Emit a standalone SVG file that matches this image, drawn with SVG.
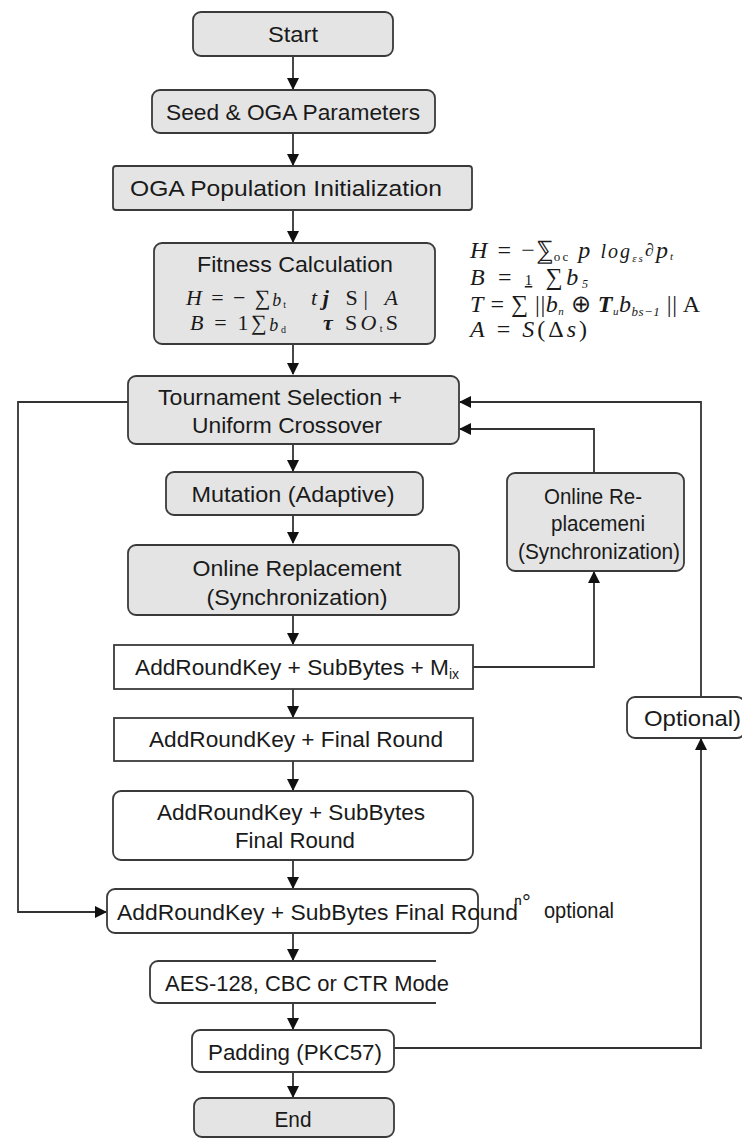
<svg xmlns="http://www.w3.org/2000/svg" width="742" height="1138" viewBox="0 0 742 1138">
<style>
.g{fill:#e4e4e4;stroke:#3a3a3a;stroke-width:1.8}
.w{fill:#ffffff;stroke:#3a3a3a;stroke-width:1.8}
.t{font-family:"Liberation Sans",Arial,sans-serif;font-size:22px;fill:#1a1a1a;text-anchor:middle}
.ts{font-family:"Liberation Sans",Arial,sans-serif;font-size:22px;fill:#1a1a1a}
.m{font-family:"Liberation Serif","Times New Roman",serif;font-size:24px;fill:#1a1a1a}
.mf{font-family:"Liberation Serif","Times New Roman",serif;font-size:22px;fill:#1a1a1a}
.i{font-style:italic}
.c{fill:none;stroke:#333;stroke-width:1.8}
</style>
<defs>
<marker id="ah" viewBox="0 0 12 12" refX="11" refY="6" markerWidth="12" markerHeight="12" markerUnits="userSpaceOnUse" orient="auto">
<path d="M0,0 L12,6 L0,12 Z" fill="#111"/>
</marker>
</defs>
<rect width="742" height="1138" fill="#ffffff"/>

<g id="connectors">
<path class="c" d="M293,56 V89" marker-end="url(#ah)"/>
<path class="c" d="M293,133 V165" marker-end="url(#ah)"/>
<path class="c" d="M293,210 V242" marker-end="url(#ah)"/>
<path class="c" d="M293,344 V374" marker-end="url(#ah)"/>
<path class="c" d="M293,445 V471" marker-end="url(#ah)"/>
<path class="c" d="M293,515 V543" marker-end="url(#ah)"/>
<path class="c" d="M293,615 V644" marker-end="url(#ah)"/>
<path class="c" d="M293,689 V717" marker-end="url(#ah)"/>
<path class="c" d="M293,761 V790" marker-end="url(#ah)"/>
<path class="c" d="M293,860 V888" marker-end="url(#ah)"/>
<path class="c" d="M293,933 V960" marker-end="url(#ah)"/>
<path class="c" d="M293,1003 V1029" marker-end="url(#ah)"/>
<path class="c" d="M293,1072 V1097" marker-end="url(#ah)"/>
<path class="c" d="M128,402 H18 V912 H106" marker-end="url(#ah)"/>
<path class="c" d="M473,667 H594 V572" marker-end="url(#ah)"/>
<path class="c" d="M594,473 V429 H460" marker-end="url(#ah)"/>
<path class="c" d="M701,697 V402 H460" marker-end="url(#ah)"/>
<path class="c" d="M394,1048 H701 V739" marker-end="url(#ah)"/>
</g>

<g id="start">
<rect class="g" x="193" y="12" width="200" height="44" rx="8"/>
<text class="t" x="293" y="42" textLength="50" lengthAdjust="spacingAndGlyphs">Start</text>
</g>

<g id="seed">
<rect class="g" x="152" y="90" width="283" height="43" rx="8"/>
<text class="t" x="293" y="120" textLength="254" lengthAdjust="spacingAndGlyphs">Seed &amp; OGA Parameters</text>
</g>

<g id="population">
<rect class="g" x="113" y="166" width="359" height="44" rx="3"/>
<text class="t" x="286" y="196" textLength="312" lengthAdjust="spacingAndGlyphs">OGA Population Initialization</text>
</g>

<g id="fitness">
<rect class="g" x="154" y="243" width="281" height="101" rx="8"/>
<text class="t" x="295" y="272" textLength="196" lengthAdjust="spacingAndGlyphs">Fitness Calculation</text>
<text class="mf" x="186" y="305" textLength="100" lengthAdjust="spacing"><tspan class="i">H</tspan> = − ∑<tspan class="i" font-size="18" dy="1">b</tspan><tspan font-size="10" dy="2">t</tspan></text>
<text class="mf" x="311" y="305" textLength="87" lengthAdjust="spacing"><tspan class="i">t</tspan><tspan class="i" font-weight="bold">j</tspan> S| <tspan class="i">A</tspan></text>
<text class="mf" x="190" y="330" textLength="96" lengthAdjust="spacing"><tspan class="i">B</tspan> = 1∑<tspan class="i" font-size="18" dy="1">b</tspan><tspan font-size="10" dy="2">d</tspan></text>
<text class="mf" x="323" y="330" textLength="75" lengthAdjust="spacing"><tspan class="i" font-weight="bold">τ</tspan> S<tspan class="i">O</tspan><tspan font-size="10" dy="2">t</tspan><tspan dy="-2">S</tspan></text>
</g>

<g id="formulas">
<text class="m" x="470" y="258" textLength="203" lengthAdjust="spacing"><tspan class="i">H</tspan> = −<tspan>⅀</tspan><tspan font-size="13" dy="3">oc</tspan><tspan class="i" dy="-3"> p </tspan><tspan class="i" font-size="20">log</tspan><tspan font-size="11" dy="4" class="i">εs</tspan><tspan font-size="18" dy="-6">∂</tspan><tspan class="i" dy="2">p</tspan><tspan font-size="11" dy="2" class="i">t</tspan></text>
<text class="m" x="470" y="285" textLength="118" lengthAdjust="spacing"><tspan class="i">B</tspan> = <tspan font-size="15" text-decoration="underline">1</tspan>  ∑<tspan class="i">b</tspan><tspan font-size="12" dy="3" class="i">5</tspan></text>
<text class="m" x="470" y="312" textLength="230" lengthAdjust="spacing"><tspan class="i">T</tspan> = ∑ ||<tspan class="i">b</tspan><tspan font-size="11" dy="3" class="i">n</tspan><tspan dy="-3"> ⊕ </tspan><tspan class="i" font-weight="bold">T</tspan><tspan font-size="11" dy="3" class="i">u</tspan><tspan class="i" dy="-3">b</tspan><tspan font-size="13" dy="4" class="i">bs−1</tspan><tspan dy="-4"> || A</tspan></text>
<text class="m" x="470" y="337" textLength="117" lengthAdjust="spacing"><tspan class="i">A</tspan> = <tspan class="i">S</tspan>(Δ<tspan class="i">s</tspan>)</text>
</g>

<g id="tournament">
<rect class="g" x="128" y="376" width="331" height="68" rx="8"/>
<text class="t" x="280" y="405" textLength="244" lengthAdjust="spacingAndGlyphs">Tournament Selection +</text>
<text class="t" x="287" y="433" textLength="190" lengthAdjust="spacingAndGlyphs">Uniform Crossover</text>
</g>

<g id="mutation">
<rect class="g" x="166" y="472" width="257" height="43" rx="8"/>
<text class="t" x="293" y="502" textLength="203" lengthAdjust="spacingAndGlyphs">Mutation (Adaptive)</text>
</g>

<g id="online-right">
<rect class="g" x="507" y="473" width="177" height="98" rx="8"/>
<text class="t" x="593" y="504" textLength="98" lengthAdjust="spacingAndGlyphs">Online Re-</text>
<text class="t" x="598" y="531" textLength="94" lengthAdjust="spacingAndGlyphs">placemeni</text>
<text class="t" x="599" y="559" textLength="162" lengthAdjust="spacingAndGlyphs">(Synchronization)</text>
</g>

<g id="online">
<rect class="g" x="128" y="545" width="331" height="70" rx="8"/>
<text class="t" x="297" y="576" textLength="209" lengthAdjust="spacingAndGlyphs">Online Replacement</text>
<text class="t" x="297" y="605" textLength="181" lengthAdjust="spacingAndGlyphs">(Synchronization)</text>
</g>

<g id="addroundkey-mix">
<rect class="w" x="114" y="645" width="359" height="44"/>
<text class="ts" x="135" y="675"><tspan textLength="314" lengthAdjust="spacingAndGlyphs">AddRoundKey + SubBytes + M</tspan><tspan font-size="14" dy="4">ix</tspan></text>
</g>

<g id="addroundkey-final">
<rect class="w" x="114" y="718" width="359" height="43"/>
<text class="t" x="296" y="747" textLength="294" lengthAdjust="spacingAndGlyphs">AddRoundKey + Final Round</text>
</g>

<g id="addroundkey-subbytes">
<rect class="w" x="113" y="791" width="360" height="69" rx="8"/>
<text class="t" x="291" y="820" textLength="268" lengthAdjust="spacingAndGlyphs">AddRoundKey + SubBytes</text>
<text class="t" x="295" y="848" textLength="120" lengthAdjust="spacingAndGlyphs">Final Round</text>
</g>

<g id="addroundkey-long">
<rect class="w" x="107" y="889" width="371" height="44" rx="8"/>
<text class="ts" x="117" y="920" textLength="401" lengthAdjust="spacingAndGlyphs">AddRoundKey + SubBytes Final Round</text>
<text class="ts" x="514" y="910" font-size="15">ⁿ°</text>
<text class="ts" x="544" y="918" font-size="18" textLength="70" lengthAdjust="spacingAndGlyphs">optional</text>
</g>

<g id="aes">
<path class="w" d="M436,961 H158 A8,8 0 0 0 150,969 V995 A8,8 0 0 0 158,1003 H436"/>
<text class="ts" x="165" y="991" textLength="284" lengthAdjust="spacingAndGlyphs">AES-128, CBC or CTR Mode</text>
</g>

<g id="padding">
<rect class="w" x="192" y="1030" width="202" height="42" rx="8"/>
<text class="t" x="295" y="1060" textLength="174" lengthAdjust="spacingAndGlyphs">Padding (PKC57)</text>
</g>

<g id="end">
<rect class="g" x="194" y="1098" width="200" height="39" rx="8"/>
<text class="t" x="293" y="1127" textLength="37" lengthAdjust="spacingAndGlyphs">End</text>
</g>

<g id="optional">
<rect class="w" x="627" y="697" width="118" height="41" rx="8"/>
<text class="ts" x="644" y="726" textLength="97" lengthAdjust="spacingAndGlyphs">Optional)</text>
</g>
</svg>
